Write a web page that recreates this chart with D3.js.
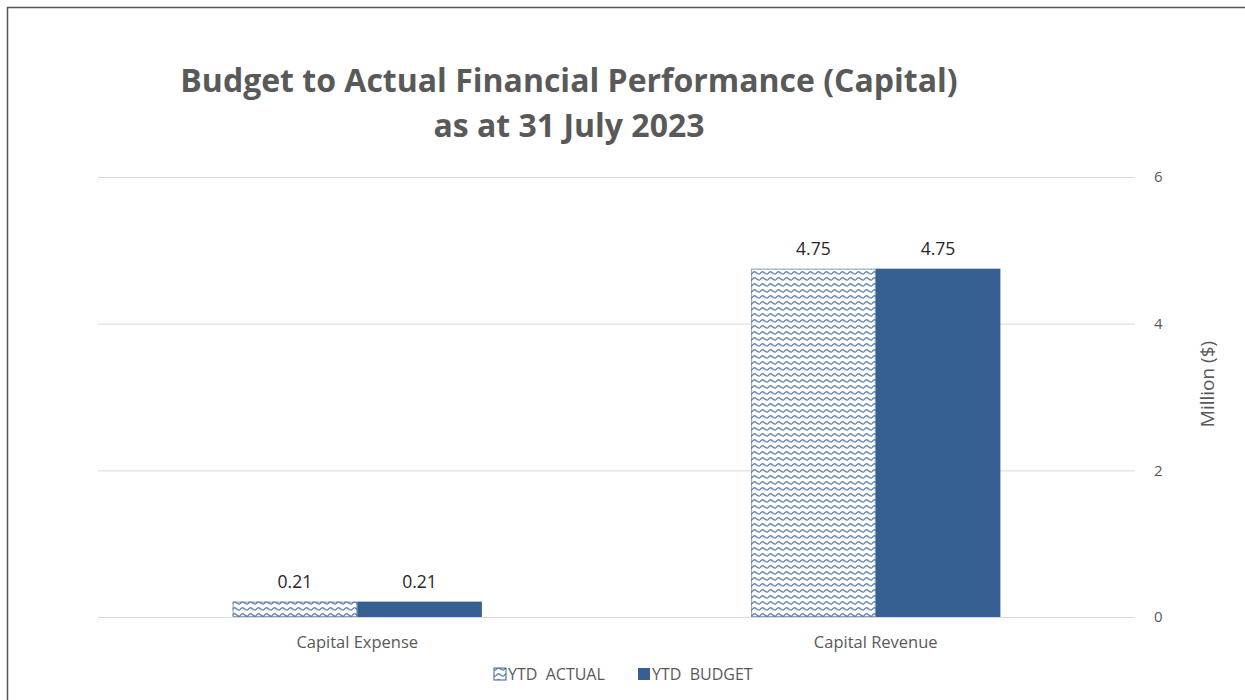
<!DOCTYPE html>
<html><head><meta charset="utf-8">
<script src="https://cdn.jsdelivr.net/npm/d3@7"></script>
<style>body{margin:0;background:#fff;}svg{display:block;font-family:"Open Sans",Lato,sans-serif;}</style>
</head><body>
<svg id="c" width="1245" height="700"></svg>
<script>
const categories = ["Capital Expense", "Capital Revenue"];
const seriesNames = ["YTD\u00a0 ACTUAL", "YTD\u00a0 BUDGET"];
const actual = [0.21, 4.75];
const budget = [0.21, 4.75];
const yTicks = [0, 2, 4, 6];
const titleLines = ["Budget to Actual Financial Performance (Capital)", "as at 31 July 2023"];

const svg = d3.select("#c");
const blue = "#366092";
const defs = svg.append("defs");
const pat = defs.append("pattern").attr("id","wave").attr("patternUnits","userSpaceOnUse")
  .attr("width",8).attr("height",6);
pat.append("rect").attr("width",8).attr("height",6).attr("fill","#fff");
pat.append("path").attr("d","M0,4 Q2,0.5 4,2.5 Q6,4.5 8,4").attr("fill","none").attr("stroke",blue).attr("stroke-width",1.5).attr("opacity",0.75);

// border
svg.append("path").attr("d","M7.5,700 L7.5,7.5 L1245,7.5").attr("fill","none").attr("stroke","#555").attr("stroke-width",1.5);

const x0 = 98, x1 = 1135, yTop = 177, yBot = 617;
const x = d3.scaleBand().domain(categories).range([x0, x1]);
const y = d3.scaleLinear().domain([0, 6]).range([yBot, yTop]);
const inner = d3.scaleBand().domain([0,1]).range([0, x.bandwidth()]).paddingInner(0).paddingOuter(1.08);

// grid
svg.append("g").selectAll("line").data(yTicks).join("line")
  .attr("x1",x0).attr("x2",x1).attr("y1",d=>y(d)+0.5).attr("y2",d=>y(d)+0.5)
  .attr("stroke","#d9d9d9").attr("stroke-width",1);

// right axis labels
const ax = svg.append("g").attr("transform",`translate(${x1},0)`)
  .call(d3.axisRight(y).tickValues(yTicks).tickSize(0).tickPadding(19).tickFormat(d3.format("d")));
ax.select(".domain").remove();
ax.selectAll("text").attr("font-size",15).attr("fill","#595959").attr("font-family","'Open Sans',Lato,sans-serif");

svg.append("text").attr("transform",`translate(1214,${384}) rotate(-90)`)
  .attr("text-anchor","middle").attr("font-size",19).attr("fill","#595959").text("Million ($)");

const series = [actual, budget];
const fills = ["url(#wave)", blue];
series.forEach((vals,si)=>{
  const g = svg.append("g");
  g.selectAll("rect").data(vals).join("rect")
    .attr("x",(d,i)=>x(categories[i])+inner(si))
    .attr("width",inner.bandwidth())
    .attr("y",d=>y(d)).attr("height",d=>y(0)-y(d))
    .attr("fill",fills[si]);
  if(si===0){
    g.selectAll("rect.o").data(vals).join("rect").attr("class","o")
      .attr("x",(d,i)=>x(categories[i])+inner(si)+0.5)
      .attr("width",inner.bandwidth()-1)
      .attr("y",d=>y(d)+0.5).attr("height",d=>y(0)-y(d)-1)
      .attr("fill","none").attr("stroke",blue).attr("stroke-width",1).attr("opacity",0.6);
  }
  g.selectAll("text").data(vals).join("text")
    .attr("x",(d,i)=>x(categories[i])+inner(si)+inner.bandwidth()/2)
    .attr("y",d=>y(d)-14)
    .attr("text-anchor","middle").attr("font-size",17.5).attr("fill","#262626")
    .text(d=>d3.format(".2f")(d));
});

// category labels
svg.append("g").selectAll("text").data(categories).join("text")
  .attr("x",d=>x(d)+x.bandwidth()/2).attr("y",648)
  .attr("text-anchor","middle").attr("font-size",16.5).attr("fill","#595959").text(d=>d);

// title
svg.append("g").selectAll("text").data(titleLines).join("text")
  .attr("x",569).attr("y",(d,i)=>92+i*45)
  .attr("text-anchor","middle").attr("font-size",32).attr("font-weight","bold").attr("fill","#595959").text(d=>d);

// legend
const lg = svg.append("g");
const lx = [494, 638];
seriesNames.forEach((n,i)=>{
  lg.append("rect").attr("x",lx[i]).attr("y",668).attr("width",12).attr("height",12)
    .attr("fill",fills[i]).attr("stroke",blue).attr("stroke-width",i===0?1:0);
  lg.append("text").attr("x",lx[i]+14).attr("y",680).attr("font-size",16).attr("fill","#595959")
    .text(n);
});
</script>
</body></html>
